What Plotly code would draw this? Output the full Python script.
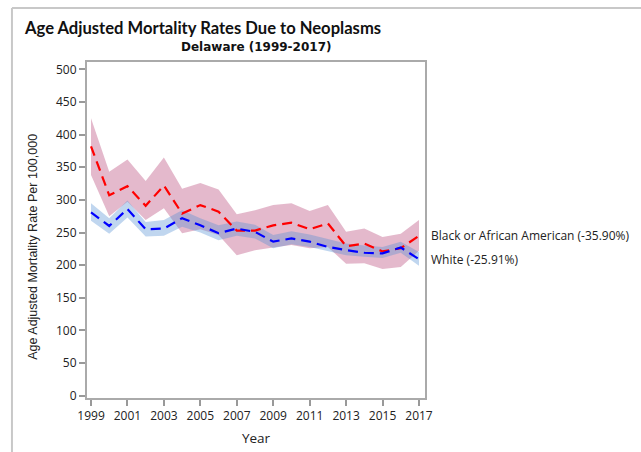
import plotly.graph_objects as go

years = list(range(1999, 2018))

# Black or African American: age adjusted rate and 95% confidence limits
black_rate = [382, 307, 321, 291, 322, 279, 292, 282, 253, 253, 261, 265, 255, 264, 229, 233, 221, 226, 245]
black_upper = [425, 343, 362, 329, 365, 317, 326, 316, 278, 284, 292, 295, 283, 292, 251, 256, 243, 248, 269]
black_lower = [338, 275, 297, 269, 287, 249, 255, 246, 215, 223, 227, 231, 226, 228, 202, 203, 194, 197, 222]

# White: age adjusted rate and 95% confidence limits
white_rate = [281, 260, 286, 255, 256, 272, 261, 249, 256, 251, 236, 241, 236, 228, 223, 219, 218, 227, 209]
white_upper = [295, 272, 299, 266, 269, 284, 272, 261, 267, 262, 246, 252, 247, 240, 233, 230, 228, 236, 220]
white_lower = [268, 248, 273, 244, 245, 259, 250, 238, 245, 241, 226, 232, 228, 222, 215, 213, 211, 219, 199]

series_labels = ["Black or African American (-35.90%)", "White (-25.91%)"]

x_ticks = list(range(1999, 2018, 2))
y_ticks = list(range(0, 501, 50))

FONT = "Open Sans"

fig = go.Figure()


def add_band(upper, lower, fill):
    fig.add_trace(go.Scatter(x=years, y=upper, mode="lines", line=dict(width=0),
                             hoverinfo="skip", showlegend=False))
    fig.add_trace(go.Scatter(x=years, y=lower, mode="lines", line=dict(width=0),
                             fill="tonexty", fillcolor=fill,
                             hoverinfo="skip", showlegend=False))


add_band(black_upper, black_lower, "rgba(184,70,120,0.38)")
add_band(white_upper, white_lower, "rgba(80,140,210,0.36)")

fig.add_trace(go.Scatter(x=years, y=black_rate, mode="lines",
                         line=dict(color="#FF0000", width=2.2, dash="10px,6px"),
                         name=series_labels[0], showlegend=False))
fig.add_trace(go.Scatter(x=years, y=white_rate, mode="lines",
                         line=dict(color="#0000FF", width=2.2, dash="10px,6px"),
                         name=series_labels[1], showlegend=False))

# End-of-line labels
for label, vals in zip(series_labels, [black_rate, white_rate]):
    fig.add_annotation(x=years[-1], y=vals[-1], text=label, xref="x", yref="y",
                       xanchor="left", yanchor="middle", xshift=10, showarrow=False,
                       font=dict(family=FONT, size=12, color="#222222"))

# Title block
fig.add_annotation(x=-0.192, y=1.101, xref="paper", yref="paper",
                   text="<b>Age Adjusted Mortality Rates Due to Neoplasms</b>",
                   xanchor="left", yanchor="middle", showarrow=False,
                   font=dict(family="Lato", size=16.6, color="#111111"))
fig.add_annotation(x=0.5, y=1.045, xref="paper", yref="paper",
                   text="<b>Delaware (1999-2017)</b>",
                   xanchor="center", yanchor="middle", showarrow=False,
                   font=dict(family="DejaVu Sans", size=12, color="#111111"))

# Y axis title
fig.add_annotation(x=-0.16, y=0.45, xref="paper", yref="paper",
                   text="Age Adjusted Mortality Rate Per 100,000",
                   textangle=-90, xanchor="center", yanchor="middle", showarrow=False,
                   font=dict(family="Liberation Sans Narrow, Liberation Sans, Arial", size=12.5,
                             color="#222222"))

# Page frame lines
frame = dict(color="#C8C8C8", width=2)
fig.add_shape(type="line", xref="paper", yref="paper", x0=-0.222, x1=1.7, y0=1.161, y1=1.161, line=frame)
fig.add_shape(type="line", xref="paper", yref="paper", x0=-0.222, x1=-0.222, y0=1.161, y1=-0.2, line=frame)

axis_common = dict(showline=True, linecolor="#AAAAAA", linewidth=2, mirror=True,
                   ticks="outside", tickcolor="#999999", ticklen=6, tickwidth=1.5,
                   showgrid=False, zeroline=False, automargin=False,
                   tickfont=dict(family=FONT, size=12, color="#222222"))

fig.update_layout(
    width=641, height=452,
    margin=dict(l=87, r=216, t=62, b=54),
    paper_bgcolor="white", plot_bgcolor="white",
    xaxis=dict(range=[1998.78, 2017.33], tickvals=x_ticks, ticktext=[str(v) for v in x_ticks],
               title=dict(text="Year", font=dict(family=FONT, size=13.5, color="#222222"), standoff=10),
               **axis_common),
    yaxis=dict(range=[-3.5, 511.2], tickvals=y_ticks, **axis_common),
    showlegend=False,
)

fig.write_html("out.html")
